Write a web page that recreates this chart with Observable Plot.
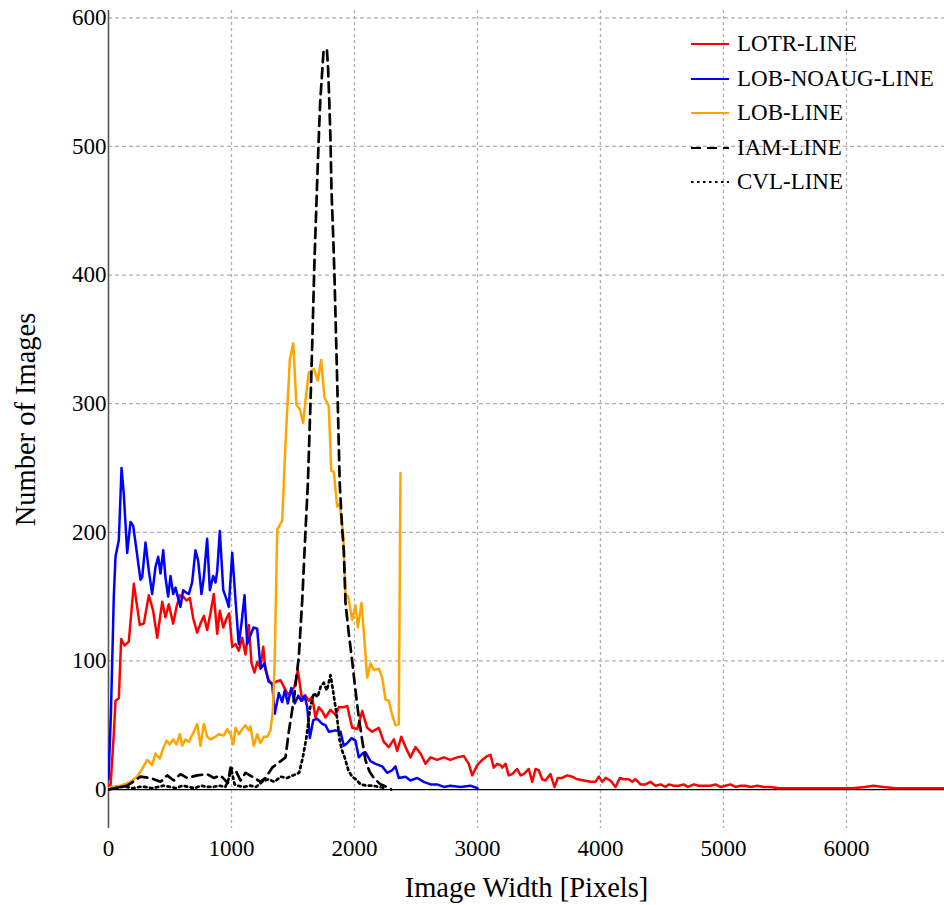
<!DOCTYPE html>
<html>
<head>
<meta charset="utf-8">
<script src="https://cdn.jsdelivr.net/npm/d3@7"></script>
<script src="https://cdn.jsdelivr.net/npm/@observablehq/plot@0.6"></script>
<style>
  body { margin: 0; background: #fff; }
  #wrap { position: relative; width: 944px; height: 905px; }
  #wrap svg text { font-family: "Liberation Serif", "Times New Roman", serif !important; font-variant: normal !important; }
  #legend { position: absolute; left: 690px; top: 27px; font-family: "Liberation Serif", serif; font-size: 23px; color: #000; }
  .item { display: flex; align-items: center; height: 34.5px; }
  .item svg { margin-right: 7px; }
</style>
</head>
<body>
<div id="wrap"><div id="legend"></div></div>
<script>
// ---- Data ----
const seriesNames = ["LOTR-LINE", "LOB-NOAUG-LINE", "LOB-LINE", "IAM-LINE", "CVL-LINE"];
const xTicks = [0, 1000, 2000, 3000, 4000, 5000, 6000];
const yTicks = [0, 100, 200, 300, 400, 500, 600];

const lotrX = [0,16,43,57,84,103,130,165,206,254,287,328,363,396,437,463,490,526,553,580,607,634,661,689,721,748,775,802,829,856,884,905,933,959,981,1006,1033,1059,1087,1114,1141,1163,1187,1209,1236,1258,1276,1303,1331,1366,1398,1425,1458,1485,1512,1539,1575,1602,1628,1656,1683,1710,1737,1764,1805,1846,1872,1913,1941,1981,2022,2063,2103,2144,2198,2238,2279,2320,2347,2380,2415,2455,2496,2537,2577,2618,2672,2726,2780,2835,2889,2929,2957,2998,3038,3079,3106,3132,3160,3187,3201,3228,3254,3282,3323,3350,3376,3417,3445,3472,3498,3526,3553,3593,3626,3653,3689,3729,3770,3811,3864,3919,3959,3986,4014,4041,4081,4122,4157,4189,4230,4258,4284,4325,4366,4406,4447,4488,4528,4555,4596,4637,4677,4710,4759,4799,4840,4894,4935,4976,5016,5057,5098,5138,5179,5219,5274,5328,5382,5450,5550,5650,5750,5850,5950,6050,6150,6220,6300,6400,6500,6600,6700,6800];
const lotrY = [3,2,43,69,71,117,112,115,160,128,129,151,139,118,146,134,144,129,142,151,150,147,149,133,122,129,135,124,137,152,121,139,126,133,137,111,113,108,118,105,128,98,91,99,95,111,93,85,82,84,85,80,74,76,80,93,69,73,69,72,56,64,61,56,62,58,64,64,65,48,47,61,48,45,48,37,33,39,30,41,33,25,33,28,20,25,23,25,23,25,26,20,11,19,23,26,27,17,20,19,17,20,11,12,16,11,12,16,6,16,15,8,7,12,2,9,9,11,10,8,7,6,6,10,6,9,7,2,9,8,8,6,8,4,4,6,3,4,2,4,3,3,4,2,4,3,3,3,4,2,3,4,2,3,3,2,3,2,2,1,1,1,1,1,1,1,2,3,2,1,1,1,1,1];

const lobNoaugX = [0,20,43,57,84,106,124,152,179,201,228,260,274,301,328,355,382,404,423,445,463,485,504,526,545,563,585,607,634,653,680,707,729,756,775,802,824,851,870,884,905,933,959,978,1006,1033,1059,1081,1106,1128,1154,1179,1209,1236,1268,1301,1331,1352,1385,1412,1433,1458,1486,1515,1543,1567,1594,1616,1637,1665,1697,1738,1764,1791,1846,1886,1913,1941,1976,2008,2035,2065,2089,2130,2171,2225,2266,2306,2333,2360,2415,2455,2510,2563,2618,2672,2726,2780,2862,2943,3000];
const lobNoaugY = [8,60,150,181,194,250,230,184,208,205,186,163,165,192,170,152,173,181,168,186,165,150,166,152,157,150,142,155,153,152,161,186,178,152,165,195,155,166,161,170,201,155,148,142,184,147,113,129,151,113,120,126,125,94,98,84,82,59,75,68,77,67,79,67,73,69,73,64,40,54,55,51,50,45,46,45,34,36,40,38,25,28,29,22,20,18,13,15,18,9,10,7,9,6,4,4,2,3,2,3,1];

const lobX = [0,16,98,179,233,274,315,355,382,417,445,472,498,526,553,580,599,626,653,694,721,748,775,802,829,870,897,937,965,992,1014,1033,1059,1087,1114,1141,1154,1181,1209,1236,1263,1290,1317,1336,1350,1372,1412,1439,1474,1502,1528,1555,1583,1602,1628,1669,1702,1729,1756,1791,1811,1832,1859,1880,1908,1927,1949,1981,2008,2027,2057,2081,2103,2130,2157,2198,2225,2252,2279,2306,2333,2360,2374];
const lobY = [0,2,3,6,10,16,23,19,28,24,32,38,35,39,35,43,34,39,37,45,51,34,51,41,39,41,43,42,47,43,35,48,43,47,50,46,49,34,43,36,41,41,46,61,95,202,209,269,334,347,299,296,285,303,324,327,318,334,305,298,248,247,220,222,199,152,150,132,143,126,145,116,87,98,93,94,87,70,69,58,50,51,246];

const iamX = [0,152,260,341,423,477,531,585,640,721,802,856,911,970,992,1033,1073,1114,1168,1236,1276,1331,1385,1439,1466,1507,1547,1575,1602,1621,1642,1656,1675,1686,1700,1714,1722,1736,1749,1776,1785,1793,1805,1813,1827,1837,1846,1864,1880,1900,1913,1927,1954,1981,2008,2035,2063,2089,2122,2157,2211,2266,2300];
const iamY = [0,3,10,9,6,11,7,12,9,11,12,9,11,5,17,15,7,13,10,6,9,17,21,25,45,70,103,147,202,238,300,345,412,443,482,518,536,556,575,575,561,541,505,466,430,400,367,300,238,202,186,145,121,100,77,56,38,23,14,9,4,2,0];

const cvlX = [0,50,100,150,200,250,300,350,400,450,500,550,600,650,700,750,800,850,900,950,975,1000,1025,1050,1100,1150,1200,1250,1300,1350,1400,1450,1500,1550,1580,1610,1640,1670,1700,1725,1750,1775,1805,1830,1858,1880,1900,1920,1950,1980,2010,2050,2100,2150,2200,2250];
const cvlY = [0,1,2,2,1,2,2,1,2,3,2,1,3,2,1,3,2,2,3,2,8,15,4,3,2,3,2,6,8,6,10,9,11,13,25,41,64,75,72,80,83,77,89,74,56,38,30,25,15,10,8,4,3,3,2,1];

// ---- Build tables ----
const rows = (name, xs, ys) => xs.map((x, i) => ({series: name, x, y: ys[i]}));
const data = [
  rows(seriesNames[0], lotrX, lotrY),
  rows(seriesNames[1], lobNoaugX, lobNoaugY),
  rows(seriesNames[2], lobX, lobY),
  rows(seriesNames[3], iamX, iamY),
  rows(seriesNames[4], cvlX, cvlY)
];

const styles = [
  {color: "#ff0000", dash: null, w: 2.5},
  {color: "#0000ff", dash: null, w: 2.5},
  {color: "#ffa500", dash: null, w: 2.5},
  {color: "#000000", dash: "10,6", w: 2.7},
  {color: "#000000", dash: "2.5,3.5", w: 2.7}
];

const font = "Liberation Serif";
const chart = Plot.plot({
  width: 944,
  height: 905,
  marginLeft: 108,
  marginRight: 0,
  marginTop: 10,
  marginBottom: 77,
  x: {domain: [0, 6797]},
  y: {domain: [-30.3, 605.7]},
  style: {fontFamily: font, fontSize: "23px", background: "white", color: "black"},
  marks: [
    Plot.gridX(xTicks.filter(d => d > 0), {stroke: "#b0b0b0", strokeOpacity: 1, strokeWidth: 1.3, strokeDasharray: "3,3"}),
    Plot.gridY(yTicks.filter(d => d > 0), {stroke: "#b0b0b0", strokeOpacity: 1, strokeWidth: 1.3, strokeDasharray: "4,3"}),
    Plot.ruleY([0], {stroke: "black", strokeWidth: 1.3}),
    Plot.ruleX([0], {stroke: "#555", strokeWidth: 1.6}),
    ...data.map((d, i) => Plot.line(d, {
      x: "x", y: "y", stroke: styles[i].color, strokeWidth: styles[i].w,
      strokeDasharray: styles[i].dash, clip: true
    })),
    Plot.axisX(xTicks, {tickSize: 0, tickPadding: 11, fontSize: 23, fontFamily: font, tickFormat: d => String(d), label: null}),
    Plot.axisY(yTicks, {tickSize: 0, tickPadding: 2, fontSize: 23, fontFamily: font, tickFormat: d => String(d), label: null}),
    Plot.text(["Image Width [Pixels]"], {frameAnchor: "bottom", lineAnchor: "middle", textAnchor: "middle", dy: 59, fontSize: 28.5, fontFamily: font, text: d => d}),
    Plot.text(["Number of Images"], {frameAnchor: "left", lineAnchor: "middle", textAnchor: "middle", dx: -83, rotate: -90, fontSize: 28.5, fontFamily: font, text: d => d})
  ]
});
const wrap = document.getElementById("wrap");
wrap.insertBefore(chart, wrap.firstChild);

// ---- Legend ----
const legend = d3.select("#legend");
seriesNames.forEach((name, i) => {
  const item = legend.append("div").attr("class", "item");
  const svg = item.append("svg").attr("width", 40).attr("height", 10);
  svg.append("line").attr("x1", 1).attr("x2", 39).attr("y1", 5).attr("y2", 5)
    .attr("stroke", styles[i].color).attr("stroke-width", 2.2)
    .attr("stroke-dasharray", styles[i].dash || null);
  item.append("span").text(name);
});
</script>
</body>
</html>
